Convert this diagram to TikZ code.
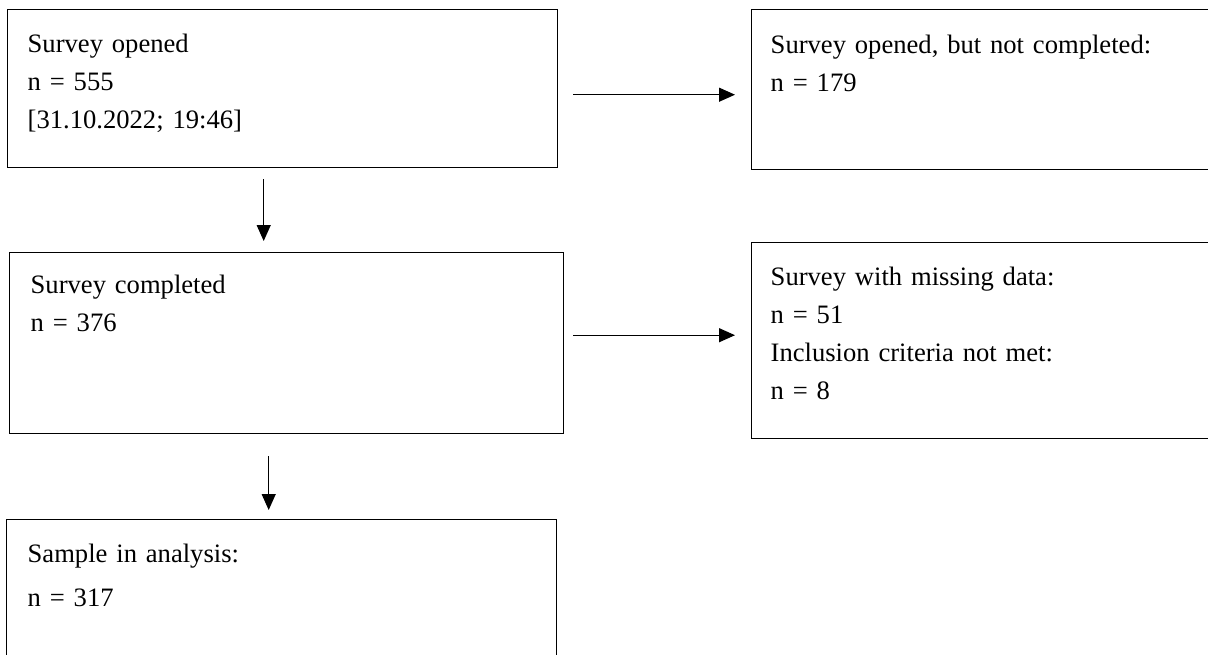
\documentclass[tikz,border=0pt]{standalone}
\usepackage{fontspec}
\setmainfont{Liberation Serif}
\usetikzlibrary{arrows.meta,calc}
\tikzset{
  flowbox/.style={draw, line width=0.7pt, anchor=north west, align=left, inner ysep=0pt,
                  font=\fontsize{13.3pt}{18.9pt}\selectfont},
  flowarrow/.style={line width=0.6pt, -{Triangle[length=8pt,width=7pt]}}
}
\begin{document}
\begin{tikzpicture}[x=0.5pt,y=-0.5pt]
\useasboundingbox (0,0) rectangle (1208,654);
\node[flowbox, inner xsep=10pt, text width=255pt, text height=21.5pt, text depth=57.5pt] (opened) at (7,9)
  {Survey opened\\ n = 555\\ {[31.10.2022; 19:46]}};
\node[flowbox, inner xsep=9.5pt, text width=213pt, text height=22pt, text depth=58pt] (notcompl) at (751,9)
  {Survey opened, but not completed:\\ n = 179};
\node[flowbox, inner xsep=10.5pt, text width=256pt, text height=20.5pt, text depth=70pt] (completed) at (9,252)
  {Survey completed\\ n = 376};
\node[flowbox, inner xsep=9.5pt, text width=213pt, text height=21.5pt, text depth=76.5pt] (missing) at (751,242)
  {Survey with missing data:\\ n = 51\\ Inclusion criteria not met:\\ n = 8};
\node[flowbox, inner xsep=10.5pt, text width=254pt, text height=21.5pt, text depth=51.5pt] (sample) at (6,519)
  {Sample in analysis:\\[3pt] n = 317};
% connectors
\draw[flowarrow] ($(opened.east)+(15,6)$) -- ($(opened.east -| notcompl.west)+(-16,6)$);
\draw[flowarrow] ($(opened.south)+(-19,11)$) -- ($(opened.south |- completed.north)+(-19,-11)$);
\draw[flowarrow] ($(completed.east)+(9,-8)$) -- ($(completed.east -| missing.west)+(-16,-8)$);
\draw[flowarrow] ($(completed.south)+(-18,22)$) -- ($(completed.south |- sample.north)+(-18,-9)$);
\end{tikzpicture}
\end{document}
